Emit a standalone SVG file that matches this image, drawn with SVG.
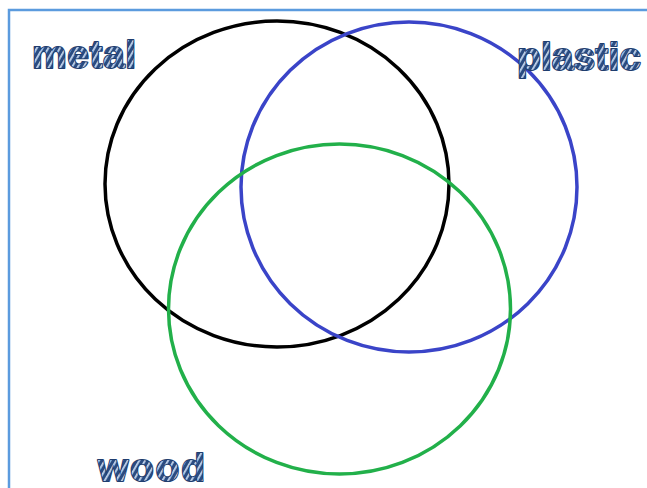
<svg xmlns="http://www.w3.org/2000/svg" width="647" height="488" viewBox="0 0 647 488">
<defs>
<pattern id="hatch" patternUnits="userSpaceOnUse" width="5" height="5" patternTransform="rotate(30)">
<rect width="5" height="5" fill="#2a4c82"/>
<rect x="0" y="0" width="1.8" height="5" fill="#c2d4ec"/>
</pattern>
<style>
.lbl{font-family:"Liberation Sans",Arial,sans-serif;font-weight:bold;font-size:39px;fill:url(#hatch);stroke:#1f3d6e;stroke-width:2;stroke-linejoin:round;paint-order:stroke}
.c{fill:none;stroke-width:3.5}
</style>
</defs>
<path d="M9,488 V10 H647" fill="none" stroke="#5b9bde" stroke-width="2.5"/>
<g id="metal-set"><ellipse class="c" cx="277" cy="184" rx="172" ry="163" stroke="#000"/></g>
<g id="plastic-set"><ellipse class="c" cx="409" cy="187" rx="168" ry="165" stroke="#3a44c8"/></g>
<g id="wood-set"><ellipse class="c" cx="339.5" cy="309" rx="171" ry="165" stroke="#22b04a"/></g>
<g id="labels">
<text class="lbl" x="32" y="68" textLength="104">metal</text>
<text class="lbl" x="517" y="70" textLength="124">plastic</text>
<text class="lbl" x="98" y="481" textLength="107">wood</text>
</g>
</svg>
